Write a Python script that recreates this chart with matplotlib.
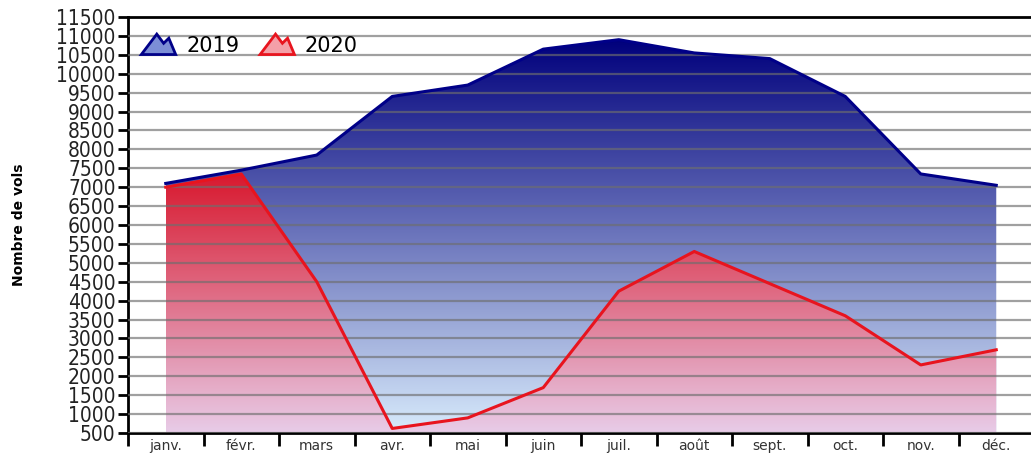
import numpy as np
import matplotlib.pyplot as plt
from matplotlib.colors import LinearSegmentedColormap
from matplotlib.patches import Polygon
from matplotlib.legend_handler import HandlerBase

## ---------------------------------------------------------------------
## data
months = ['janv.', 'févr.', 'mars', 'avr.', 'mai', 'juin',
          'juil.', 'août', 'sept.', 'oct.', 'nov.', 'déc.']
vols_2019 = [7100, 7450, 7850, 9400, 9700, 10650, 10900, 10550, 10400, 9400, 7350, 7050]
vols_2020 = [7000, 7350, 4500, 620, 900, 1700, 4250, 5300, 4450, 3600, 2300, 2700]
ymin, ymax = 500, 11500

## ---------------------------------------------------------------------
## legend icon shaped like a little mountain
class MountainHandler(HandlerBase):
    def __init__(self, face, edge):
        super().__init__()
        self.face = face
        self.edge = edge

    def create_artists(self, legend, orig_handle, xdescent, ydescent,
                       width, height, fontsize, trans):
        shape = [(0, 0), (0.45, 1.0), (0.65, 0.55), (0.8, 0.8), (1.0, 0)]
        pts = [(x * width - xdescent, y * height * 1.4 - ydescent - 2) for x, y in shape]
        p = Polygon(pts, closed=True, facecolor=self.face, edgecolor=self.edge,
                    lw=2, transform=trans)
        return [p]

## ---------------------------------------------------------------------
fig = plt.figure(figsize=(10.31, 4.55), dpi=100)
ax = fig.add_axes([128 / 1031, 22 / 455, 906 / 1031, 416 / 455])

x = np.arange(len(months))

def gradient_fill(vals, c_bottom, c_top, top, line_color, z):
    poly_x = np.concatenate([[x[0]], x, [x[-1]]])
    poly_y = np.concatenate([[ymin], vals, [ymin]])
    patch = Polygon(np.column_stack([poly_x, poly_y]), closed=True,
                    facecolor='none', edgecolor='none')
    ax.add_patch(patch)
    cmap = LinearSegmentedColormap.from_list('g', [c_bottom, c_top])
    grad = np.linspace(0, 1, 256).reshape(-1, 1)
    im = ax.imshow(grad, cmap=cmap, origin='lower', aspect='auto',
                   extent=[x[0], x[-1], ymin, top], zorder=z)
    im.set_clip_path(patch)
    ax.plot(x, vals, color=line_color, lw=2.2, zorder=z + 3)

gradient_fill(vols_2019, '#d8ebfc', '#00007c', max(vols_2019), '#000088', 1)
gradient_fill(vols_2020, '#e8cce8', '#d8182e', max(vols_2020), '#e8141e', 2)

## grid lines on top of fills
for v in range(ymin, ymax, 500):
    ax.axhline(v, color='#6e6e6e', lw=1.6, alpha=0.65, zorder=3)

ax.set_xlim(-0.5, 11.5)
ax.set_ylim(ymin, ymax)

ax.set_yticks(range(ymin, ymax + 1, 500))
ax.set_yticklabels([str(v) for v in range(ymin, ymax + 1, 500)],
                   fontsize=15, fontstretch='condensed', color='#222222')
ax.tick_params(axis='y', length=7, width=2, pad=2, direction='out')

ax.set_xticks(np.arange(-0.5, 12, 1))
ax.set_xticklabels([])
ax.tick_params(axis='x', length=9, width=2, direction='out')
ax.set_xticks(x, minor=True)
ax.set_xticklabels(months, minor=True, fontsize=10, color='#333333')
ax.tick_params(axis='x', which='minor', length=0, pad=4)

for s in ['left', 'top', 'bottom']:
    ax.spines[s].set_linewidth(2)
    ax.spines[s].set_color('black')
ax.spines['right'].set_visible(False)
ax.spines['top'].set_zorder(5)

ax.set_ylabel('Nombre de vols', fontsize=10, fontweight='bold', labelpad=22)

h1 = plt.Line2D([], [])
h2 = plt.Line2D([], [])
ax.legend([h1, h2], ['2019', '2020'], loc='upper left',
          bbox_to_anchor=(-0.006, 1.0), ncol=2, frameon=False, fontsize=15,
          handlelength=1.65, handletextpad=0.5, columnspacing=1.0,
          handler_map={h1: MountainHandler('#7c8ed6', '#000088'),
                       h2: MountainHandler('#f4a0a8', '#e8141e')})

plt.savefig('out.png', dpi=100)
